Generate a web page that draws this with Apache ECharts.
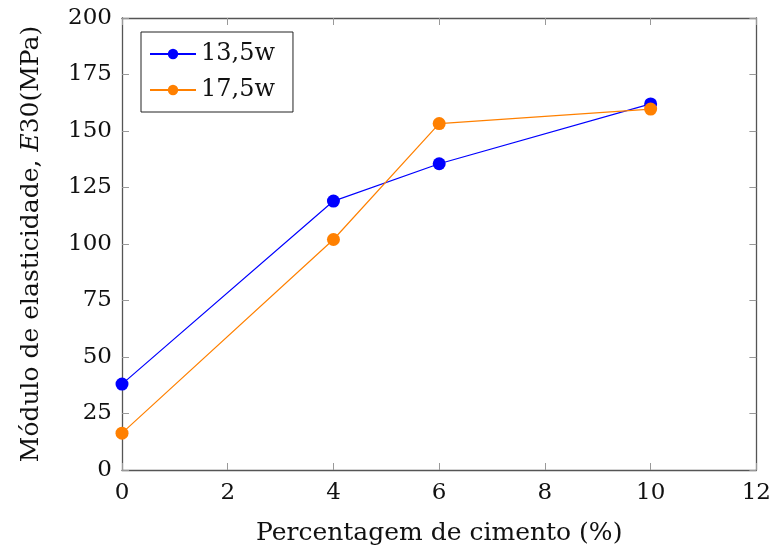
<!DOCTYPE html>
<html>
<head>
<meta charset="utf-8">
<script src="https://cdn.jsdelivr.net/npm/echarts@6/dist/echarts.min.js"></script>
<style>html,body{margin:0;padding:0;background:#fff;}#c{width:774px;height:551px;}</style>
</head>
<body>
<div id="c"></div>
<script>
const xValues = [0, 4, 6, 10];
const series135 = [38, 119, 135.5, 162];
const series175 = [16.3, 102, 153.3, 159.7];
const xTicks = [0, 2, 4, 6, 8, 10, 12];
const yTicks = [0, 25, 50, 75, 100, 125, 150, 175, 200];

const font = 'DejaVu Serif';
const chart = echarts.init(document.getElementById('c'));
const axisLine = {show: true, onZero: false, lineStyle: {color: '#555', width: 1.3}};
const axisTick = {show: true, inside: true, length: 7, lineStyle: {color: '#999', width: 1}};
chart.setOption({
  animation: false,
  grid: {left: 122, right: 17, top: 18, bottom: 80},
  legend: {
    left: 141, top: 32, orient: 'vertical',
    borderColor: '#222', borderWidth: 1, padding: [10, 18, 10, 8],
    itemWidth: 46, itemHeight: 13, itemGap: 12,
    textStyle: {fontFamily: font, fontSize: 24, color: '#111'},
    data: ['13,5w', '17,5w']
  },
  xAxis: [{
    type: 'value', min: xTicks[0], max: xTicks[xTicks.length - 1], interval: 2,
    name: 'Percentagem de cimento (%)', nameLocation: 'middle', nameGap: 51,
    nameTextStyle: {fontFamily: font, fontSize: 25, color: '#111'},
    axisLine, axisTick, splitLine: {show: false},
    axisLabel: {fontFamily: font, fontSize: 23, color: '#111', margin: 12}
  }, {
    type: 'value', min: xTicks[0], max: xTicks[xTicks.length - 1], interval: 2, position: 'top',
    axisLine, axisTick, splitLine: {show: false}, axisLabel: {show: false}
  }],
  yAxis: [{
    type: 'value', min: yTicks[0], max: yTicks[yTicks.length - 1], interval: 25,
    name: 'Módulo de elasticidade, {i|E}30(MPa)', nameLocation: 'middle', nameGap: 78,
    nameTextStyle: {fontFamily: font, fontSize: 25, color: '#111',
      rich: {i: {fontFamily: font, fontSize: 25, fontStyle: 'italic', color: '#111'}}},
    axisLine, axisTick, splitLine: {show: false},
    axisLabel: {fontFamily: font, fontSize: 23, color: '#111', margin: 10}
  }, {
    type: 'value', min: yTicks[0], max: yTicks[yTicks.length - 1], interval: 25, position: 'right',
    axisLine, axisTick, splitLine: {show: false}, axisLabel: {show: false}
  }],
  series: [{
    name: '13,5w', type: 'line', color: '#0000ff',
    data: xValues.map((x, i) => [x, series135[i]]),
    symbol: 'circle', symbolSize: 13, lineStyle: {width: 1.2}, itemStyle: {color: '#0000ff'}
  }, {
    name: '17,5w', type: 'line', color: '#ff8000',
    data: xValues.map((x, i) => [x, series175[i]]),
    symbol: 'circle', symbolSize: 13, lineStyle: {width: 1.2}, itemStyle: {color: '#ff8000'}
  }]
});
</script>
</body>
</html>
